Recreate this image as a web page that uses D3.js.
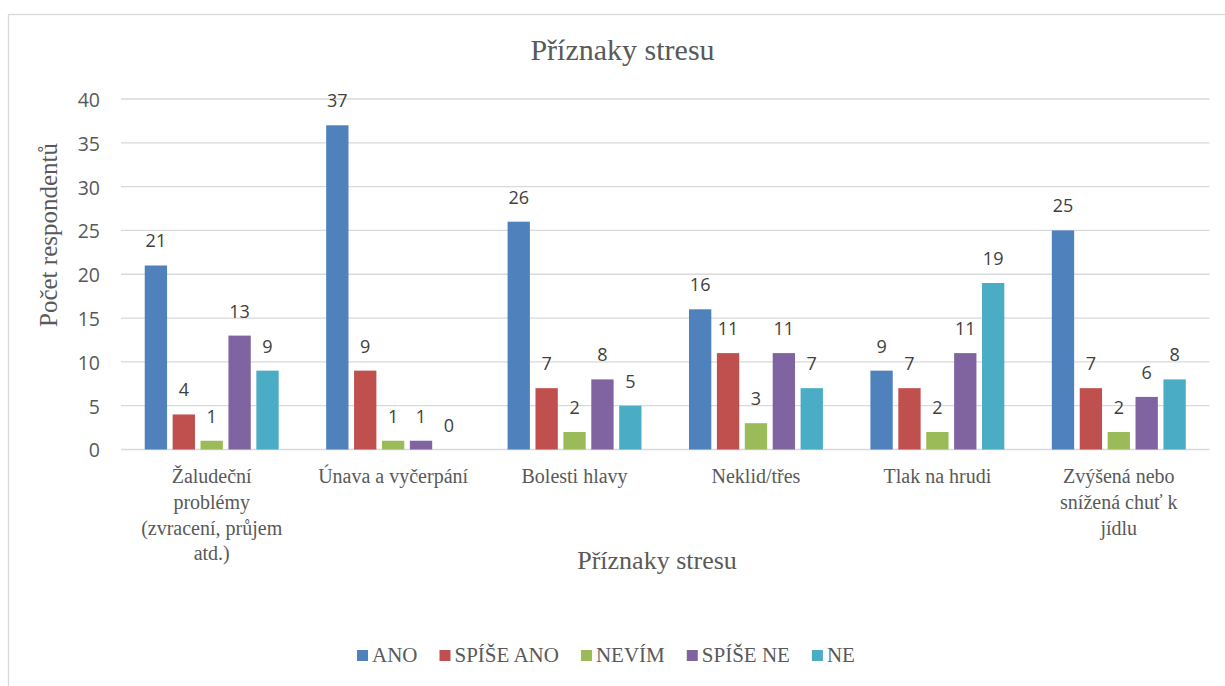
<!DOCTYPE html>
<html>
<head>
<meta charset="utf-8">
<script src="https://cdn.jsdelivr.net/npm/d3@7"></script>
<style>
  body { margin: 0; background: #fff; }
  svg { display: block; }
</style>
</head>
<body>
<div id="chart"></div>
<script>
// categories (line breaks as in the original axis labels)
var categories = [
    "Žaludeční\nproblémy\n(zvracení, průjem\natd.)",
    "Únava a vyčerpání",
    "Bolesti hlavy",
    "Neklid/třes",
    "Tlak na hrudi",
    "Zvýšená nebo\nsnížená chuť k\njídlu"
];
var seriesNames = ["ANO", "SPÍŠE ANO", "NEVÍM", "SPÍŠE NE", "NE"];
var seriesColors = ["#4F81BD", "#C0504D", "#9BBB59", "#8064A2", "#4BACC6"];

var ano      = [21, 37, 26, 16, 9, 25];
var spiseAno = [4, 9, 7, 11, 7, 7];
var nevim    = [1, 1, 2, 3, 2, 2];
var spiseNe  = [13, 1, 8, 11, 11, 6];
var ne       = [9, 0, 5, 7, 19, 8];

var yTicks = [0, 5, 10, 15, 20, 25, 30, 35, 40];

var seriesValues = [ano, spiseAno, nevim, spiseNe, ne];

var width = 1225, height = 686;
var serif = "'Liberation Serif', 'Times New Roman', serif";
var sans = "'Open Sans', 'Liberation Sans', sans-serif";

var svg = d3.select("#chart").append("svg")
    .attr("width", width)
    .attr("height", height);

// chart border
svg.append("rect")
    .attr("x", 8.5).attr("y", 14.5)
    .attr("width", 1240).attr("height", 700)
    .attr("fill", "none")
    .attr("stroke", "#d9d9d9")
    .attr("stroke-width", 1.3);

var plot = { left: 121, right: 1209.5, top: 99, bottom: 449.5 };

var x0 = d3.scaleBand()
    .domain(d3.range(categories.length))
    .range([plot.left, plot.right])
    .paddingInner(0.231)
    .paddingOuter(0.1155);

var x1 = d3.scaleBand()
    .domain(d3.range(seriesNames.length))
    .range([0, x0.bandwidth()])
    .paddingInner(0.2)
    .paddingOuter(0.1);

var y = d3.scaleLinear()
    .domain([0, 40])
    .range([plot.bottom, plot.top]);

// gridlines
svg.append("g")
    .selectAll("line")
    .data(yTicks)
    .enter().append("line")
    .attr("x1", plot.left)
    .attr("x2", plot.right)
    .attr("y1", d => y(d))
    .attr("y2", d => y(d))
    .attr("stroke", "#d9d9d9")
    .attr("stroke-width", 1.3);

// y axis labels
var yAxis = svg.append("g")
    .attr("transform", "translate(" + (plot.left - 21) + ",0)")
    .call(d3.axisLeft(y).tickValues(yTicks).tickSize(0).tickPadding(0));
yAxis.select(".domain").remove();
yAxis.selectAll("text")
    .attr("fill", "#595959")
    .style("font-family", sans)
    .style("font-size", "19.5px")
    .attr("dy", "0.38em");

// bars
var groups = svg.append("g")
    .selectAll("g")
    .data(categories.map((c, i) => i))
    .enter().append("g")
    .attr("transform", d => "translate(" + x0(d) + ",0)");

groups.selectAll("rect")
    .data(ci => seriesValues.map((vals, si) => ({ si: si, v: vals[ci] })))
    .enter().append("rect")
    .attr("x", d => x1(d.si))
    .attr("width", x1.bandwidth())
    .attr("y", d => y(d.v))
    .attr("height", d => y(0) - y(d.v))
    .attr("fill", d => seriesColors[d.si]);

// data labels
groups.selectAll("text")
    .data(ci => seriesValues.map((vals, si) => ({ si: si, v: vals[ci] })))
    .enter().append("text")
    .attr("x", d => x1(d.si) + x1.bandwidth() / 2)
    .attr("y", d => y(d.v) - 18)
    .attr("text-anchor", "middle")
    .attr("fill", "#404040")
    .style("font-family", sans)
    .style("font-size", "18px")
    .text(d => d.v);

// category labels
var catLabels = svg.append("g")
    .selectAll("text")
    .data(categories)
    .enter().append("text")
    .attr("text-anchor", "middle")
    .attr("fill", "#595959")
    .style("font-family", serif)
    .style("font-size", "20px");

catLabels.each(function(d, i) {
    var t = d3.select(this);
    d.split("\n").forEach((line, k) => {
        t.append("tspan")
            .attr("x", x0(i) + x0.bandwidth() / 2)
            .attr("y", 483 + k * 25.8)
            .text(line);
    });
});

// title
svg.append("text")
    .attr("x", 622.5)
    .attr("y", 60)
    .attr("text-anchor", "middle")
    .attr("fill", "#595959")
    .style("font-family", serif)
    .style("font-size", "30px")
    .text("Příznaky stresu");

// x axis title
svg.append("text")
    .attr("x", 657)
    .attr("y", 569)
    .attr("text-anchor", "middle")
    .attr("fill", "#595959")
    .style("font-family", serif)
    .style("font-size", "26px")
    .text("Příznaky stresu");

// y axis title
svg.append("text")
    .attr("transform", "translate(57,235) rotate(-90)")
    .attr("text-anchor", "middle")
    .attr("fill", "#595959")
    .style("font-family", serif)
    .style("font-size", "25px")
    .text("Počet respondentů");

// legend
var legend = svg.append("g");
var lx = 357;
seriesNames.forEach((name, i) => {
    legend.append("rect")
        .attr("x", lx)
        .attr("y", 650)
        .attr("width", 11)
        .attr("height", 11)
        .attr("fill", seriesColors[i]);
    var txt = legend.append("text")
        .attr("x", lx + 15)
        .attr("y", 662)
        .attr("fill", "#595959")
        .style("font-family", serif)
        .style("font-size", "21px")
        .text(name);
    lx += 15 + txt.node().getComputedTextLength() + 22;
});
</script>
</body>
</html>
